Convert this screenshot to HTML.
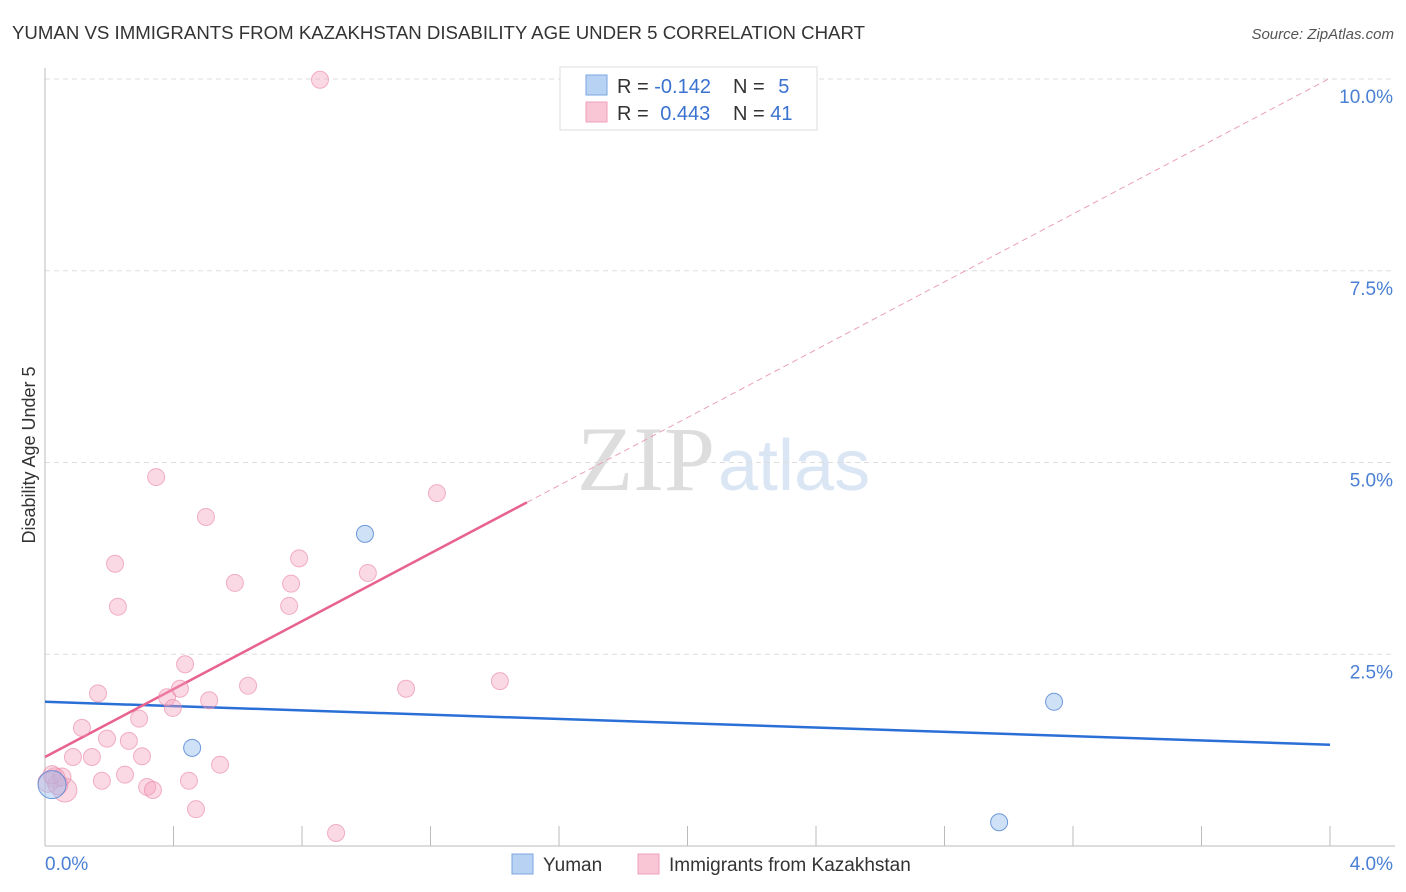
<!DOCTYPE html>
<html><head><meta charset="utf-8"><style>
body{margin:0;background:#fff;font-family:"Liberation Sans",sans-serif}
svg{display:block}
</style></head><body>
<svg id="chart" width="1406" height="892">
<text x="12" y="39" font-size="18" fill="#333" textLength="853" lengthAdjust="spacingAndGlyphs">YUMAN VS IMMIGRANTS FROM KAZAKHSTAN DISABILITY AGE UNDER 5 CORRELATION CHART</text>
<text x="1394" y="39" font-size="15" fill="#555" font-style="italic" text-anchor="end">Source: ZipAtlas.com</text>
<text x="35" y="455" font-size="18" fill="#333" transform="rotate(-90 35 455)" text-anchor="middle">Disability Age Under 5</text>
<text x="715" y="490" font-size="92" fill="#ddd" text-anchor="end" font-family="Liberation Serif">ZIP</text>
<text x="718" y="490" font-size="72" fill="#dbe6f5">atlas</text>
<g id="grid"></g><g id="axes"></g><g id="trends"></g><g id="pts"></g>
<g>
<rect x="560" y="67" width="257" height="63" fill="#fff" stroke="#ddd"/>
<rect x="586" y="75" width="21" height="20" fill="#b8d2f4" stroke="#7aa6e0"/>
<rect x="586" y="102" width="21" height="20" fill="#f9c6d6" stroke="#eea0b8"/>
<text x="617" y="93" font-size="20" fill="#333">R = <tspan fill="#3a72d0">-0.142</tspan></text>
<text x="733" y="93" font-size="20" fill="#333">N = <tspan fill="#3a72d0" dx="8">5</tspan></text>
<text x="617" y="120" font-size="20" fill="#333">R = <tspan fill="#3a72d0" dx="6">0.443</tspan></text>
<text x="733" y="120" font-size="20" fill="#333">N = <tspan fill="#3a72d0">41</tspan></text>
</g>
<g>
<rect x="512" y="854" width="21" height="20" fill="#b8d2f4" stroke="#7aa6e0"/>
<text x="543" y="871" font-size="19" fill="#333">Yuman</text>
<rect x="638" y="854" width="21" height="20" fill="#f9c6d6" stroke="#eea0b8"/>
<text x="669" y="871" font-size="19" fill="#333">Immigrants from Kazakhstan</text>
</g>
</svg>
<script>
const pinkX=[0.856,0.346,1.220,0.501,0.218,0.791,0.591,0.766,1.005,0.227,0.760,0.436,0.165,0.420,0.380,0.398,0.511,0.632,1.124,1.416,0.293,0.115,0.193,0.261,0.146,0.087,0.302,0.545,0.249,0.177,0.448,0.318,0.336,0.470,0.906,0.031,0.062,0.009,0.040,0.022,0.053];
const pinkY=[9.99,4.81,4.60,4.29,3.68,3.75,3.43,3.42,3.56,3.12,3.13,2.37,1.99,2.05,1.94,1.80,1.90,2.09,2.05,2.15,1.66,1.54,1.40,1.37,1.16,1.16,1.17,1.06,0.93,0.85,0.85,0.77,0.73,0.48,0.17,0.89,0.73,0.83,0.80,0.93,0.90];
const pinkR=[8.5,8.5,8.5,8.5,8.5,8.5,8.5,8.5,8.5,8.5,8.5,8.5,8.5,8.5,8.5,8.5,8.5,8.5,8.5,8.5,8.5,8.5,8.5,8.5,8.5,8.5,8.5,8.5,8.5,8.5,8.5,8.5,8.5,8.5,8.5,10,12,10,10,9,9];
const blueX=[0.996,0.458,3.141,2.970,0.022];
const blueY=[4.07,1.28,1.88,0.31,0.80];
const blueR=[8.5,8.5,8.5,8.5,14];
const yTicks=[2.5,5.0,7.5,10.0];
const yTickLabels=["2.5%","5.0%","7.5%","10.0%"];
const xTicks=[0,0.4,0.8,1.2,1.6,2.0,2.4,2.8,3.2,3.6,4.0];
const blueTrend=[[0,1.88],[4.0,1.32]];
const pinkTrend=[[0,1.16],[1.5,4.48],[4.0,10.01]];
const NS="http://www.w3.org/2000/svg";
const X=v=>45+v*321.25, Y=v=>846-v*76.7;
function mk(t,a,p){const e=document.createElementNS(NS,t);for(const k in a)e.setAttribute(k,a[k]);p.appendChild(e);return e;}
const grid=document.getElementById('grid'),axes=document.getElementById('axes'),tr=document.getElementById('trends'),pts=document.getElementById('pts');
yTicks.forEach((v,i)=>{
 const l=mk('line',{x1:45,x2:1395,y1:Y(v),y2:Y(v),stroke:'#ddd','stroke-dasharray':'5,4'},grid);
 
 
 const t=mk('text',{x:1393,y:Y(v)+24,'font-size':19,fill:'#4a7fd4','text-anchor':'end'},axes);
 t.textContent=yTickLabels[i];
 
 
});
const ya=mk('line',{x1:45,x2:45,y1:68,y2:846,stroke:'#bbb'},axes);


const xa=mk('line',{x1:45,x2:1395,y1:846,y2:846,stroke:'#bbb'},axes);


xTicks.forEach(v=>{
 const l=mk('line',{x1:X(v),x2:X(v),y1:826,y2:846,stroke:'#bbb'},axes);
 
 
});
const xl0=mk('text',{x:45,y:870,'font-size':19,fill:'#4a7fd4'},axes);xl0.textContent='0.0%';


const xl1=mk('text',{x:1393,y:870,'font-size':19,fill:'#4a7fd4','text-anchor':'end'},axes);xl1.textContent='4.0%';


pinkX.forEach((x,i)=>{
 const c=mk('circle',{cx:X(x),cy:Y(pinkY[i]),r:pinkR[i],fill:'rgba(244,160,188,0.4)',stroke:'rgba(232,130,165,0.6)','stroke-width':1},pts);
 
 
});
blueX.forEach((x,i)=>{
 const c=mk('circle',{cx:X(x),cy:Y(blueY[i]),r:blueR[i],fill:'rgba(160,195,240,0.5)',stroke:'rgba(80,130,210,0.8)','stroke-width':1},pts);
 
 
});
const bt=mk('line',{x1:X(blueTrend[0][0]),y1:Y(blueTrend[0][1]),x2:X(blueTrend[1][0]),y2:Y(blueTrend[1][1]),stroke:'#2a6fd6','stroke-width':2.5},tr);


const ps=mk('line',{x1:X(pinkTrend[0][0]),y1:Y(pinkTrend[0][1]),x2:X(pinkTrend[1][0]),y2:Y(pinkTrend[1][1]),stroke:'#e8628e','stroke-width':2.5},tr);


const pd=mk('line',{x1:X(pinkTrend[1][0]),y1:Y(pinkTrend[1][1]),x2:X(pinkTrend[2][0]),y2:Y(pinkTrend[2][1]),stroke:'#eaa0b8','stroke-width':1,'stroke-dasharray':'6,4'},tr);


</script>
</body></html>
